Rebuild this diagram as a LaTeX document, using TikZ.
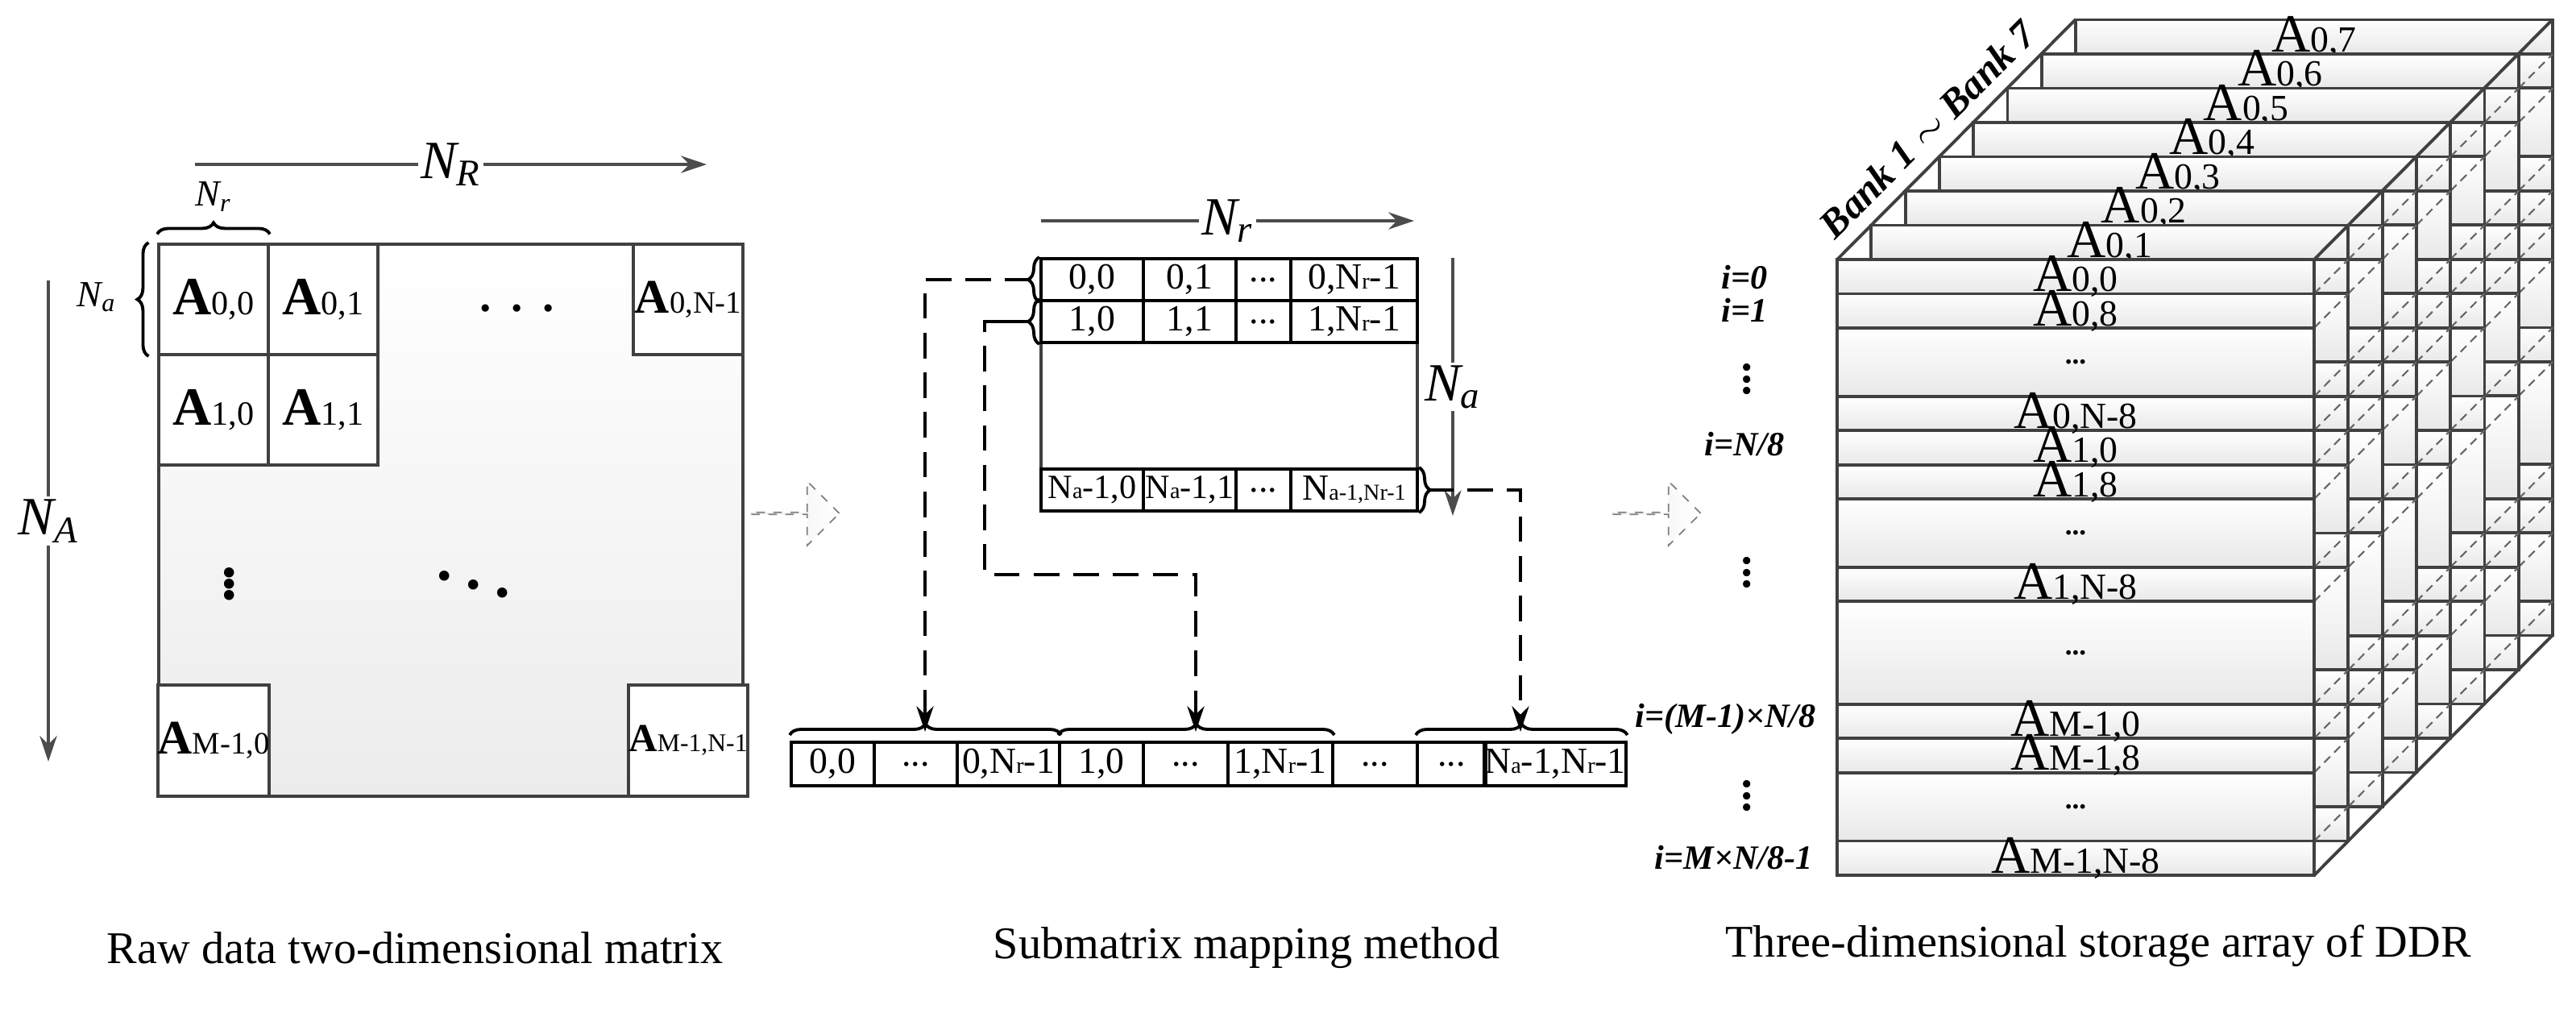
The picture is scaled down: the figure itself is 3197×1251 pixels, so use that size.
\documentclass[tikz,border=0pt]{standalone}
\usepackage{fontspec}
\setmainfont{Liberation Serif}
\usetikzlibrary{decorations.pathreplacing, shapes.arrows, arrows.meta}

\newcommand{\Ab}[1]{\textbf{A}{\fontsize{12}{14}\selectfont #1}}
\newcommand{\Ac}[1]{A{\fontsize{13}{15}\selectfont #1}}
\newcommand{\sm}[1]{{\fontsize{8}{9}\selectfont #1}}

\tikzset{
  frame/.style = {draw = black!75, line width = 1.1pt},
  blk/.style = {draw = black!75, line width = 1.1pt, fill = white, inner sep = 0pt,
    minimum width = 1.36cm, minimum height = 1.37cm, font = \fontsize{19}{21}\selectfont},
  sc/.style = {draw, line width = 1.1pt, inner sep = 0pt, minimum height = 0.52cm,
    font = \fontsize{13}{15}\selectfont},
  axis/.style = {draw = black!70, line width = 1.2pt, -{Stealth[length = 9pt, width = 6pt]}},
  lbl/.style = {fill = white, inner sep = 1pt, font = \fontsize{19}{21}\selectfont\itshape},
  brc/.style = {decoration = {brace, amplitude = 4pt}, decorate, line width = 1.1pt},
  link/.style = {dashed, dash pattern = on 9pt off 5pt, line width = 1.1pt,
    -{Stealth[length = 9pt, width = 6pt]}},
  hollow/.style = {single arrow, draw = gray, dashed, left color = gray!15,
    right color = white, minimum height = 1.1cm, minimum width = 0.8cm,
    single arrow head extend = 0.26cm, inner sep = 0pt, line width = 0.5pt},
  layer/.style = {draw = black!75, line width = 1.1pt},
  diag/.style = {draw = black!60, dashed, dash pattern = on 3pt off 2pt, line width = 0.6pt},
  caption/.style = {font = \fontsize{16}{18}\selectfont},
  row/.style = {font = \fontsize{19}{21}\selectfont}
}

\begin{document}
\begin{tikzpicture}[x = 0.01cm, y = -0.01cm]
  \useasboundingbox (0,0) rectangle (3197,1251);

  % raw data matrix
  \shade[top color = white, bottom color = gray!15] (197,303) rectangle (922,988);
  \draw[frame] (197,303) rectangle (922,988);
  \node[blk] (a00) at (265,371.5) {\Ab{0,0}};
  \node[blk] (a01) at (401,371.5) {\Ab{0,1}};
  \node[blk] (a10) at (265,508.5) {\Ab{1,0}};
  \node[blk] (a11) at (401,508.5) {\Ab{1,1}};
  \node[blk, font = \fontsize{17}{19}\selectfont] (a0n) at (854,371.5)
    {\textbf{A}{\fontsize{11}{13}\selectfont 0,N-1}};
  \node[blk, minimum height = 1.38cm, font = \fontsize{17}{19}\selectfont] (am0) at (265,919)
    {\textbf{A}{\fontsize{11}{13}\selectfont M-1,0}};
  \node[blk, minimum height = 1.38cm, font = \fontsize{14}{16}\selectfont] (amn) at (854,919)
    {\textbf{A}{\fontsize{9}{11}\selectfont M-1,N-1}};
  \node[font = \fontsize{30}{30}\selectfont] (hd) at (642,385) {$\cdots$};
  \node[font = \fontsize{30}{30}\selectfont] (vd) at (285,714) {$\vdots$};
  \node[font = \fontsize{30}{30}\selectfont] (dd) at (588,714) {$\ddots$};

  \coordinate (nR1) at (242,204);
  \coordinate (nR2) at (877,204);
  \draw[axis] (nR1) -- node[lbl] {N\textsubscript{R}} (nR2);
  \coordinate (nA1) at (60,348);
  \coordinate (nA2) at (60,945);
  \draw[axis] (nA1) -- node[lbl] {N\textsubscript{A}} (nA2);
  \draw[brc] ([yshift = 3pt] a00.north west) -- ([yshift = 3pt] a00.north east);
  \node[font = \fontsize{13}{15}\selectfont\itshape] (nr0) at (265,244) {N\textsubscript{r}};
  \draw[brc] ([xshift = -3pt] a00.south west) -- ([xshift = -3pt] a00.north west);
  \node[font = \fontsize{13}{15}\selectfont\itshape] (na0) at (120,369) {N\textsubscript{a}};

  \node[hollow] (h1) at (986,637) {};
  \node[hollow] (h2) at (2055,637) {};

  % submatrix
  \draw[frame] (1292,321) rectangle (1759,634);
  \foreach \r/\y/\p in {0/347/0, 1/399/1}{
    \node[sc, minimum width = 1.27cm] (s\r-1) at (1355.5,\y) {\p,0};
    \node[sc, minimum width = 1.15cm] (s\r-2) at (1476.5,\y) {\p,1};
    \node[sc, minimum width = 0.68cm] (s\r-3) at (1568,\y) {...};
    \node[sc, minimum width = 1.57cm] (s\r-4) at (1680.5,\y) {\p,N\sm{r}-1};
  }
  \node[sc, minimum width = 1.27cm, font = \fontsize{12}{14}\selectfont] (sl-1) at (1355.5,608) {N\sm{a}-1,0};
  \node[sc, minimum width = 1.15cm, font = \fontsize{12}{14}\selectfont] (sl-2) at (1476.5,608) {N\sm{a}-1,1};
  \node[sc, minimum width = 0.68cm] (sl-3) at (1568,608) {...};
  \node[sc, minimum width = 1.57cm] (sl-4) at (1680.5,608)
    {N\sm{a-1,N\sm{r}-1}};
  \coordinate (nr1) at (1292,274);
  \coordinate (nr2) at (1755,274);
  \draw[axis] (nr1) -- node[lbl] {N\textsubscript{r}} (nr2);
  \coordinate (na1) at (1803,320);
  \coordinate (na2) at (1803,640);
  \draw[axis] (na1) -- node[lbl, pos = 0.5] {N\textsubscript{a}} (na2);

  \draw[brc] (s0-1.south west) -- (s0-1.north west);
  \draw[brc] (s1-1.south west) -- (s1-1.north west);
  \draw[brc] (sl-4.north east) -- (sl-4.south east);

  % linear array
  \foreach \l/\rr/\t [count = \i] in {982/1085/{0,0}, 1085/1188/{...},
      1188/1315/{0,N\sm{r}-1}, 1315/1419/{1,0}, 1419/1524/{...},
      1524/1654/{1,N\sm{r}-1}, 1654/1759/{...}, 1759/1844/{...},
      1844/2016/{N\sm{a}-1,N\sm{r}-1}}{
    \pgfmathsetmacro{\cx}{(\l+\rr)/2}
    \pgfmathsetmacro{\w}{(\rr-\l)/100}
    \node[sc, minimum width = \w cm, minimum height = 0.54cm] (m\i) at (\cx,948) {\t};
  }
  \draw[brc] ([yshift = 2pt] m1.north west) -- ([yshift = 2pt] m3.north east);
  \draw[brc] ([yshift = 2pt] m4.north west) -- ([yshift = 2pt] m6.north east);
  \draw[brc] ([yshift = 2pt] m8.north west) -- ([yshift = 2pt] m9.north east);

  \coordinate (t1) at (1279,347);
  \coordinate (t2) at (1279,399);
  \coordinate (t2s) at (1241,399);
  \coordinate (t3) at (1772,608);
  \coordinate (k2) at (1222,713);
  \coordinate (b1) at (1148,908);
  \coordinate (b2) at (1484,908);
  \coordinate (b3) at (1887,908);
  \draw[link] (t1) -| (b1);
  \draw[line width = 1.1pt] (t2) -- (t2s);
  \draw[link] (t2s) -| (k2) -| (b2);
  \draw[link] (t3) -| (b3);

  % three-dimensional storage array
  \foreach \k in {7,...,0}{
    \begin{scope}[shift = {(42.3*\k,-42.5*\k)}]
      \foreach \a/\b in {0/1, 1/2, 2/4, 4/5, 5/6, 6/7, 7/9, 9/10, 10/13, 13/14, 14/15, 15/17, 17/18}{
        \shade[layer, top color = white, bottom color = gray!18]
          (2280,322+42.44*\a) rectangle (2872,322+42.44*\b);
      }
      \ifnum\k>0
        \node[row] (bk\k) at (2576,343) {\Ac{0,\k}};
        \foreach \a in {1,2,4,5,6,7,9,10,13,14,15,17}{
          \draw[diag] (2872-42.3,322+42.44*\a+42.5) -- (2872,322+42.44*\a);
        }
      \fi
    \end{scope}
  }
  \foreach \a/\t [count = \i] in {0.5/{0,0}, 1.5/{0,8}, 4.5/{0,N-8}, 5.5/{1,0},
      6.5/{1,8}, 9.5/{1,N-8}, 13.5/{M-1,0}, 14.5/{M-1,8}, 17.5/{M-1,N-8}}{
    \node[row] (f\i) at (2576,322+42.44*\a) {\Ac{\t}};
  }
  \foreach \a [count = \i] in {3, 8, 11.5, 16}{
    \node[row, font = \bfseries] (fd\i) at (2576,322+42.44*\a) {...};
  }
  \draw[layer] (2280,322) -- (2576,24);
  \draw[layer] (2872,322) -- (3168,24);
  \draw[layer] (2872,1086) -- (3168,788);
  \node[rotate = 45, font = \fontsize{14}{16}\selectfont\bfseries\itshape] (bank) at (2392,160)
    {Bank 1 $\sim$ Bank 7};

  \begin{scope}[font = \fontsize{12}{14}\selectfont\bfseries\itshape]
    \node (i0) at (2165,344) {i=0};
    \node (i1) at (2165,385) {i=1};
    \node[font = \fontsize{22}{22}\selectfont] (iv1) at (2168,460) {$\vdots$};
    \node (i2) at (2165,551) {i=N/8};
    \node[font = \fontsize{22}{22}\selectfont] (iv2) at (2168,700) {$\vdots$};
    \node[anchor = east] (i3) at (2266,892) {i=(M-1)×N/8};
    \node[font = \fontsize{22}{22}\selectfont] (iv3) at (2168,977) {$\vdots$};
    \node[anchor = east] (i4) at (2262,1064) {i=M×N/8-1};
  \end{scope}

  % captions
  \node[caption] (c1) at (515,1176) {Raw data two-dimensional matrix};
  \node[caption] (c2) at (1547,1176) {Submatrix mapping method};
  \node[caption] (c3) at (2604,1174) {Three-dimensional storage array of DDR};
\end{tikzpicture}
\end{document}
